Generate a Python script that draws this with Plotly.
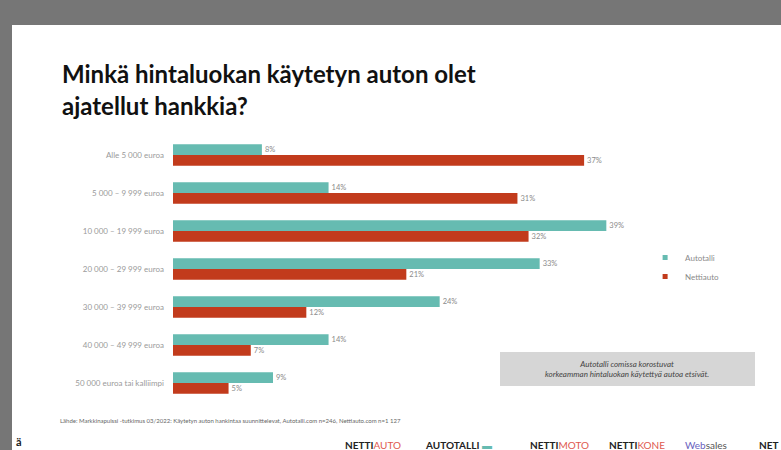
import plotly.graph_objects as go

categories = [
    "Alle 5 000 euroa",
    "5 000 – 9 999 euroa",
    "10 000 – 19 999 euroa",
    "20 000 – 29 999 euroa",
    "30 000 – 39 999 euroa",
    "40 000 – 49 999 euroa",
    "50 000 euroa tai kalliimpi",
]
autotalli = [8, 14, 39, 33, 24, 14, 9]
nettiauto = [37, 31, 32, 21, 12, 7, 5]
series_names = ["Autotalli", "Nettiauto"]

W, H = 781, 450
TEAL = "#66bbb1"
RED = "#c23b1c"

fig = go.Figure()
for name, vals, col in [(series_names[0], autotalli, TEAL), (series_names[1], nettiauto, RED)]:
    fig.add_trace(go.Bar(
        y=categories, x=vals, orientation="h", name=name, showlegend=False,
        marker=dict(color=col, line=dict(width=0)),
        text=[f"{v}%" for v in vals], textposition="outside",
        textfont=dict(size=7.5, color="#8a8a8a", family="Lato"),
        cliponaxis=False,
    ))
# legend entries with small square swatches
for name, col in [(series_names[0], TEAL), (series_names[1], RED)]:
    fig.add_trace(go.Scatter(
        x=[None], y=[None], mode="markers", name=name,
        marker=dict(symbol="square", size=5, color=col),
    ))

fig.update_layout(
    width=W, height=H,
    margin=dict(l=0, r=0, t=0, b=0),
    paper_bgcolor="#767676",
    plot_bgcolor="rgba(0,0,0,0)",
    barmode="group", bargap=0.44, bargroupgap=0.0,
    font=dict(family="Lato", color="#555"),
    showlegend=True,
    legend=dict(x=0.826, y=0.46, xanchor="left", yanchor="top",
                font=dict(size=8, color="#8a8a8a"), bgcolor="rgba(0,0,0,0)",
                itemwidth=30, tracegroupgap=0),
    xaxis=dict(domain=[173 / W, 673 / W], range=[0, 45], visible=False,
               showgrid=False, zeroline=False),
    yaxis=dict(domain=[1 - 402 / H, 1 - 136 / H], autorange="reversed",
               showgrid=False, zeroline=False, showline=False, ticks="",
               tickfont=dict(size=8, color="#9a9a9a", family="Lato"),
               ticklabelstandoff=8),
)

# white slide area
fig.add_shape(type="rect", xref="paper", yref="paper", x0=12 / W, x1=1.0,
              y0=0, y1=1 - 25 / H, fillcolor="white", line=dict(width=0), layer="below")

# title (two lines)
for i, line in enumerate(["Minkä hintaluokan käytetyn auton olet", "ajatellut hankkia?"]):
    fig.add_annotation(xref="paper", yref="paper", x=60 / W, y=1 - (74 + 31 * i) / H,
                       xanchor="left", yanchor="middle", align="left", showarrow=False,
                       text=f"<b>{line}</b>",
                       font=dict(size=24, color="#111", family="Lato"))

# callout box
fig.add_shape(type="rect", xref="paper", yref="paper", x0=500 / W, x1=755 / W,
              y0=1 - 386 / H, y1=1 - 352 / H, fillcolor="#d6d6d6", line=dict(width=0))
fig.add_annotation(xref="paper", yref="paper", x=627 / W, y=1 - 369 / H,
                   xanchor="center", yanchor="middle",
                   showarrow=False, align="center",
                   text="<i>Autotalli comissa korostuvat<br>korkeamman hintaluokan käytettyä autoa etsivät.</i>",
                   font=dict(size=8, color="#444", family="Lato"))

# source
fig.add_annotation(xref="paper", yref="paper", x=58 / W, y=1 - 420 / H,
                   xanchor="left", yanchor="middle", showarrow=False,
                   text="Lähde: Markkinapulssi -tutkimus 03/2022: Käytetyn auton hankintaa suunnittelevat, Autotalli.com n=246, Nettiauto.com n=1 127",
                   font=dict(size=6, color="#666", family="Lato"))

# footer logos
logos = [
    (343, "<b>NETTI</b><span style='color:#e0594f'>AUTO</span>"),
    (423, "<b>AUTOTALLI</b> <span style='color:#66bbb1'>▬</span>"),
    (528, "<b>NETTI</b><span style='color:#e0594f'>MOTO</span>"),
    (607, "<b>NETTI</b><span style='color:#e0594f'>KONE</span>"),
    (683, "<span style='color:#6a5fc0'>Web</span><span style='color:#555'>sales</span>"),
]
for x, t in logos:
    fig.add_annotation(xref="paper", yref="paper", x=x / W, y=1 - 445 / H,
                       xanchor="left", yanchor="middle", showarrow=False, text=t,
                       font=dict(size=10, color="#222", family="Lato"))
fig.add_annotation(xref="paper", yref="paper", x=780 / W, y=1 - 445 / H,
                   xanchor="right", yanchor="middle", showarrow=False, text="<b>NET</b>",
                   font=dict(size=10, color="#222", family="Lato"))
fig.add_annotation(xref="paper", yref="paper", x=14 / W, y=1 - 441 / H,
                   xanchor="left", yanchor="middle", showarrow=False, text="<b>ä</b>",
                   font=dict(size=11, color="#222", family="Lato"))

fig.write_html("out.html")
